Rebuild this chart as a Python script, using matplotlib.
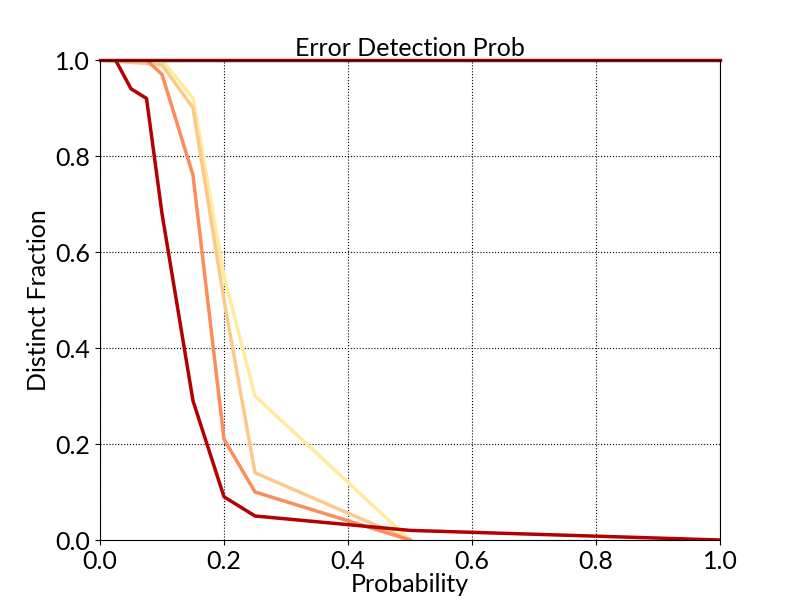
import matplotlib
matplotlib.use("Agg")
import matplotlib.pyplot as plt

plt.rcParams['font.family'] = ['Lato', 'DejaVu Sans']

x_top = [0.0, 1.0]
y_top = [1.0, 1.0]
x_a = [0.0, 0.1, 0.15, 0.2, 0.25, 0.5]
y_a = [1.0, 1.0, 0.92, 0.55, 0.30, 0.0]
x_b = [0.0, 0.1, 0.15, 0.2, 0.25, 0.5]
y_b = [1.0, 0.99, 0.90, 0.50, 0.14, 0.0]
x_c = [0.0, 0.075, 0.1, 0.15, 0.2, 0.25, 0.5]
y_c = [1.0, 1.0, 0.97, 0.76, 0.21, 0.10, 0.0]
x_d = [0.0, 0.025, 0.05, 0.075, 0.1, 0.15, 0.2, 0.25, 0.5, 1.0]
y_d = [1.0, 1.0, 0.94, 0.92, 0.68, 0.29, 0.09, 0.05, 0.02, 0.0]

fig = plt.figure(figsize=(8, 6), dpi=100)
ax = fig.add_axes([0.125, 0.1, 0.775, 0.8])
ax.plot(x_a, y_a, color='#ffeb9c', lw=2.5)
ax.plot(x_b, y_b, color='#fdc98a', lw=2.5)
ax.plot(x_c, y_c, color='#fc8d59', lw=2.5)
ax.plot(x_d, y_d, color='#b30000', lw=2.5)
ax.plot(x_top, y_top, color='#b30000', lw=2.5, clip_on=False)
ax.set_xlim(0, 1)
ax.set_ylim(0, 1)
ax.set_xticks([0, 0.2, 0.4, 0.6, 0.8, 1.0])
ax.set_yticks([0, 0.2, 0.4, 0.6, 0.8, 1.0])
ax.tick_params(labelsize=18)
ax.grid(True, color='black', linestyle=':', lw=0.8)
ax.set_title('Error Detection Prob', fontsize=18, pad=2)
ax.set_xlabel('Probability', fontsize=18, labelpad=0)
ax.set_ylabel('Distinct Fraction', fontsize=18)
fig.savefig('out.png')
